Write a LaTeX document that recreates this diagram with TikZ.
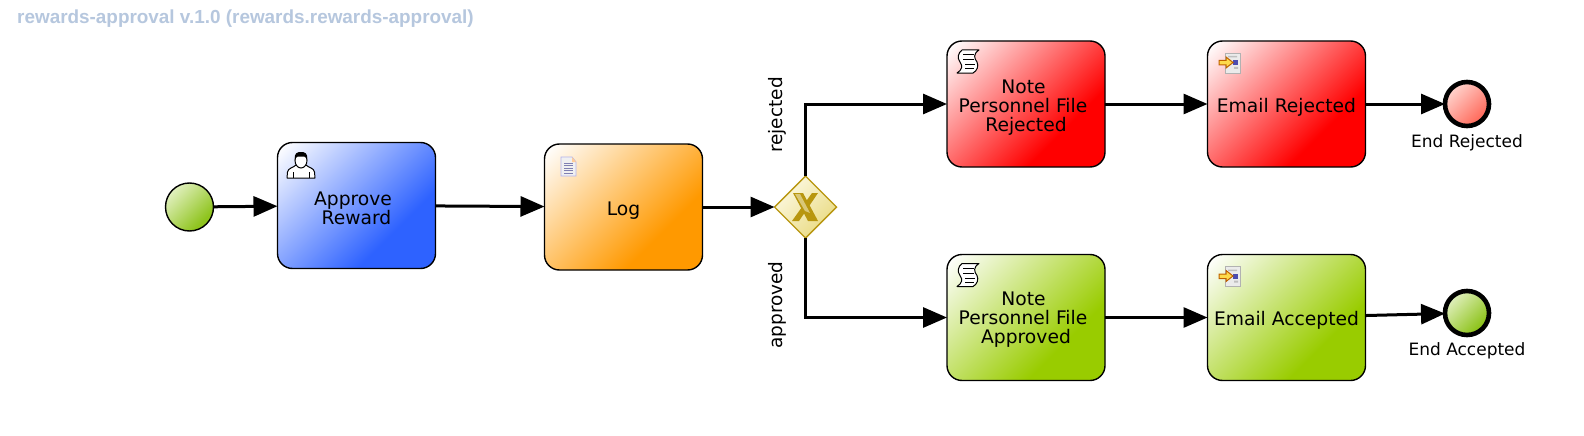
\documentclass[tikz,border=0pt]{standalone}
\usepackage{fontspec}
\setmainfont{DejaVu Sans}
\newfontfamily\titlefont{Liberation Sans}
\usetikzlibrary{shapes.geometric,arrows.meta}
\definecolor{taskblue}{HTML}{2E62FF}
\definecolor{taskorange}{HTML}{FF9900}
\definecolor{taskred}{HTML}{FF0000}
\definecolor{taskgreen}{HTML}{99CC00}
\definecolor{titlecol}{HTML}{B6C7DE}
\definecolor{gwline}{HTML}{B8960F}
\definecolor{gold}{HTML}{B8960F}
\definecolor{goldlight}{HTML}{D9C778}
\pgfdeclareverticalshading{shblue}{100bp}{color(0bp)=(taskblue);color(34bp)=(taskblue);color(84bp)=(white);color(100bp)=(white)}
\pgfdeclareverticalshading{shorange}{100bp}{color(0bp)=(taskorange);color(34bp)=(taskorange);color(84bp)=(white);color(100bp)=(white)}
\pgfdeclareverticalshading{shred}{100bp}{color(0bp)=(taskred);color(34bp)=(taskred);color(84bp)=(white);color(100bp)=(white)}
\pgfdeclareverticalshading{shgreen}{100bp}{color(0bp)=(taskgreen);color(34bp)=(taskgreen);color(84bp)=(white);color(100bp)=(white)}
\definecolor{endred}{HTML}{FF6F61}
\definecolor{endredl}{HTML}{FFE5E0}
\definecolor{endgreen}{HTML}{8FC41E}
\definecolor{endgreenl}{HTML}{EEF7D8}
\definecolor{gwdark}{HTML}{EBDD8A}
\definecolor{gwlight}{HTML}{FFFDF0}
\pgfdeclareverticalshading{shendred}{100bp}{color(0bp)=(endred);color(30bp)=(endred);color(82bp)=(endredl);color(100bp)=(endredl)}
\pgfdeclareverticalshading{shendgreen}{100bp}{color(0bp)=(endgreen);color(30bp)=(endgreen);color(82bp)=(endgreenl);color(100bp)=(endgreenl)}
\pgfdeclareverticalshading{shgw}{100bp}{color(0bp)=(gwdark);color(30bp)=(gwdark);color(82bp)=(gwlight);color(100bp)=(gwlight)}
\tikzset{
  x=1pt,y=-1pt,
  task/.style={draw=black,line width=1.4pt,rounded corners=15pt,minimum width=158pt,minimum height=126pt,
    inner sep=0pt,outer sep=0pt,align=center,shade,shading angle=45,text=black,
    font=\fontsize{18.7}{19}\selectfont},
  startev/.style={circle,draw=black,line width=1.4pt,minimum size=48pt,inner sep=0pt,outer sep=0pt,shade,shading angle=45},
  endev/.style={circle,draw=black,line width=4.6pt,minimum size=44pt,inner sep=0pt,outer sep=0pt,shade,shading angle=45},
  gatewaynode/.style={diamond,draw=gwline,line width=1.4pt,minimum width=62pt,minimum height=62pt,aspect=1,inner sep=0pt,outer sep=0pt,shade,shading=shgw,shading angle=45},
  flow/.style={draw=black,line width=3pt,-{Triangle[length=24pt,width=20pt]}},
  flowlabel/.style={font=\fontsize{18.5}{20}\selectfont,text=black,inner sep=0pt},
  evlabel/.style={font=\fontsize{17}{20}\selectfont,text=black,inner sep=0pt},
  titlelabel/.style={font=\titlefont\bfseries\fontsize{18.9}{22}\selectfont,text=titlecol,inner sep=0pt,anchor=west},
  usericon/.pic={
    \draw[line width=1pt,fill=white,line join=round] (0,26) -- (0.5,20) .. controls (1,16) and (6,16) .. (9,13) -- (19,13) .. controls (22,16) and (27,16) .. (27.5,20) -- (28,26) -- cycle;
    \draw[line width=0.8pt] (6,26) -- (6,20) (22,26) -- (22,20);
    \fill[white] (14,8) ellipse (6.5 and 8);
    \draw[line width=1pt] (14,8.5) ellipse (6 and 7.5);
    \fill[black] (8,8) .. controls (7,1) and (10,0) .. (14,0) .. controls (18,0) and (21,1) .. (20,8) .. controls (19,4) and (16,4) .. (14,4.5) .. controls (12,4) and (9,4) .. (8,8) -- cycle;
  },
  scripticon/.pic={
    \draw[line width=1pt,line join=round,fill=white] (5,0) -- (22,0) .. controls (16,4) and (17,8) .. (20,12) .. controls (22,16) and (20,21) .. (16,23) -- (0,23) .. controls (5,20) and (6,16) .. (3,12) .. controls (0,8) and (1,3) .. (5,0) -- cycle;
    \draw[line width=1pt] (6,5) -- (17,5) (6,10) -- (17,10) (8,14.5) -- (18,14.5) (8,19) -- (17,19);
  },
  serviceicon/.pic={
    \fill[black!8] (6,0) rectangle (21,20);
    \draw[line width=0.8pt,black!30] (6,0) rectangle (21,20);
    \fill[blue!55!black!70] (14,7) rectangle (19,12);
    \fill[black!25] (9,3) rectangle (18,4.5) (15,14) rectangle (19,16);
    \draw[line width=1pt,draw=orange!75!black,fill=yellow!65!orange!70] (0,7.5) -- (7,7.5) -- (7,4) -- (14,9.5) -- (7,15) -- (7,12) -- (0,12) -- cycle;
  },
  docicon/.pic={
    \draw[line width=0.8pt,draw=black!25!blue!30,fill=blue!6!black!6] (0,0) -- (11,0) -- (15,5) -- (15,19) -- (0,19) -- cycle;
    \fill[orange!40] (11,0) -- (15,5) -- (11,5) -- cycle;
    \foreach \yy in {6,8.5,11,13.5,16}{\draw[line width=0.9pt,blue!40!black!50] (3,\yy) -- (12,\yy);}
  },
}
\newcommand{\toppad}[1]{\rule{0pt}{0pt}\\[#1]}
\newcommand{\lowone}{\rule{0pt}{20pt}}
\begin{document}
\begin{tikzpicture}
\useasboundingbox (0,0) rectangle (1584,436);
\fill[white] (0,0) rectangle (1584,436);
\node[titlelabel] (title) at (17,18.5) {rewards-approval v.1.0 (rewards.rewards-approval)};
\node[startev,shading=shendgreen] (start) at (189.5,207) {};
\node[task,shading=shblue] (approve) at (356.5,205.5) {\toppad{0pt}Approve\kern7pt\\Reward};
\node[task,shading=shorange] (log) at (623.5,207) {\lowone Log};
\node[gatewaynode] (gw) at (805.5,207) {};
\node[task,shading=shred] (note1) at (1026,104) {\toppad{2pt}Note\kern5pt\\Personnel File\kern6pt\\Rejected};
\node[task,shading=shgreen] (note2) at (1026,317.5) {\toppad{-1pt}Note\kern5pt\\Personnel File\kern6pt\\Approved};
\node[task,shading=shred] (mail1) at (1286.5,104) {\lowone Email Rejected};
\node[task,shading=shgreen] (mail2) at (1286.5,317.5) {\lowone Email Accepted};
\node[endev,shading=shendred] (end1) at (1467,104) {};
\node[endev,shading=shendgreen] (end2) at (1467,313) {};
\node[evlabel] (lend1) at (1467,143) {End Rejected};
\node[evlabel] (lend2) at (1467,351) {End Accepted};
\node[flowlabel,rotate=90] (lrej) at (777,115) {rejected};
\node[flowlabel,rotate=90] (lapp) at (777,305) {approved};
% gateway X
\fill[gold] (793,193) -- (803,193) -- (818,221) -- (808,221) -- cycle;
\fill[gold] (812,193) -- (818,193) -- (799,221) -- (792,221) -- cycle;
\fill[goldlight] (795,194) -- (800,194) -- (810,213) -- (805,211) -- cycle;
% icons
\pic at (287,152) {usericon};
\pic at (561,157) {docicon};
\pic at (957,50) {scripticon};
\pic at (957,263.5) {scripticon};
\pic at (1219,53) {serviceicon};
\pic at (1219,266.5) {serviceicon};
% connectors
\draw[flow] (start) -- (approve);
\draw[flow] (approve) -- (log);
\draw[flow] (log) -- (gw);
\draw[flow] (gw.north) |- (note1);
\draw[flow] (gw.south) |- (note2);
\draw[flow] (note1) -- (mail1);
\draw[flow] (note2) -- (mail2);
\draw[flow] (mail1) -- (end1);
\draw[flow] (mail2) -- (end2);
\end{tikzpicture}
\end{document}
